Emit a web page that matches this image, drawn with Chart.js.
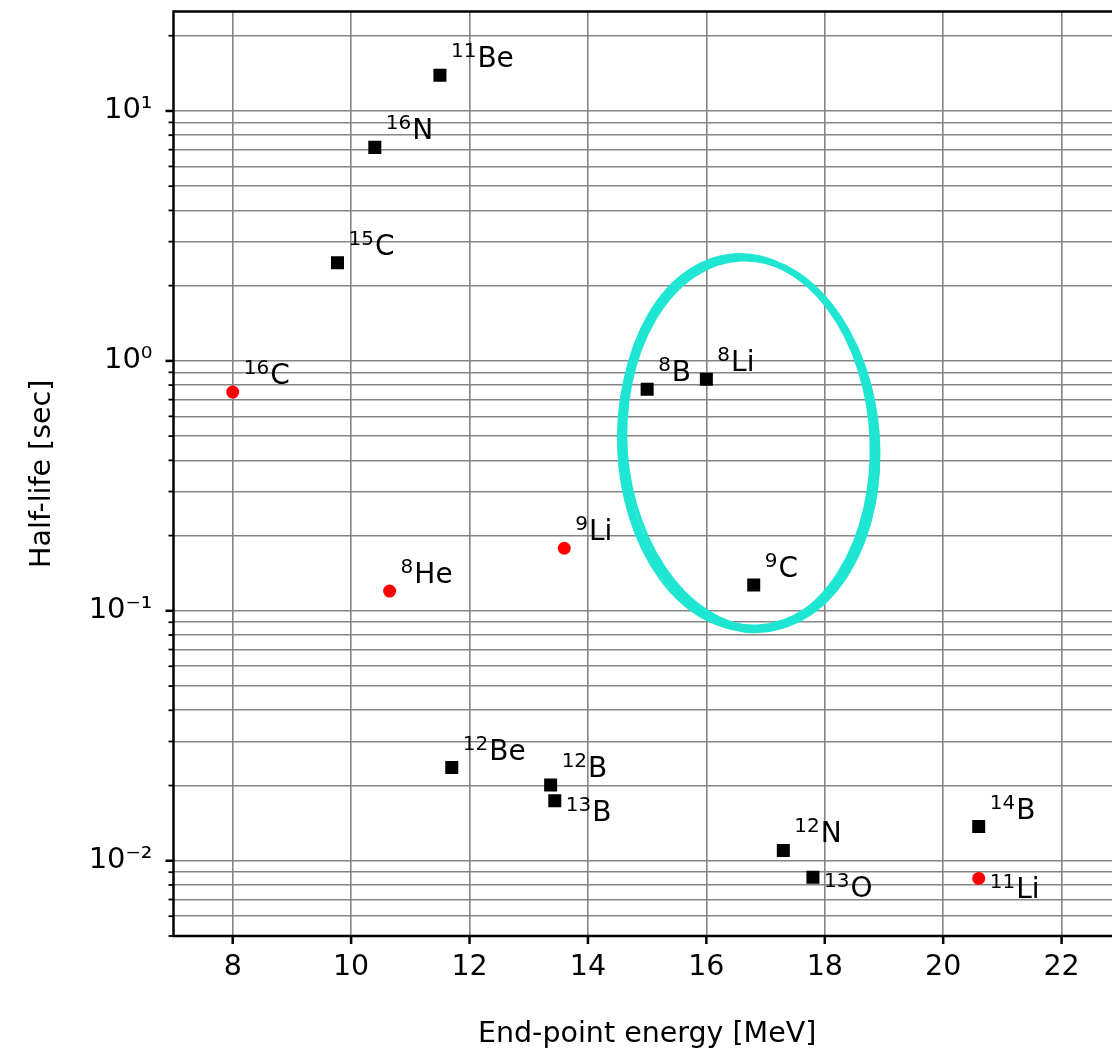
<!DOCTYPE html>
<html>
<head>
<meta charset="utf-8">
<script src="https://cdn.jsdelivr.net/npm/chart.js@4.4.1/dist/chart.umd.min.js"></script>
<style>
  html, body { margin: 0; padding: 0; background: #fff; overflow: hidden; }
  #wrap { width: 1130px; height: 1054px; }
</style>
</head>
<body>
<div id="wrap"><canvas id="myChart"></canvas></div>
<script>
// black squares
const blackMass = [11, 16, 15, 8, 8, 9, 12, 12, 13, 12, 13, 14]
const blackElement = ['Be', 'N', 'C', 'B', 'Li', 'C', 'Be', 'B', 'B', 'N', 'O', 'B']
const blackEnergy = [11.5, 10.4, 9.77, 15.0, 16.0, 16.8, 11.7, 13.37, 13.44, 17.3, 17.8, 20.6]
const blackHalfLife = [13.9, 7.15, 2.47, 0.77, 0.845, 0.127, 0.0236, 0.0201, 0.0174, 0.011, 0.0086, 0.0137]

// red dots
const redMass = [16, 9, 8, 11]
const redElement = ['C', 'Li', 'He', 'Li']
const redEnergy = [8.0, 13.6, 10.65, 20.6]
const redHalfLife = [0.75, 0.178, 0.12, 0.0085]

const xTicks = [8, 10, 12, 14, 16, 18, 20, 22]
const decades = [-3, -2, -1, 0, 1]
const supDigits = { '-': '\u207B', '0': '\u2070', '1': '\u00B9', '2': '\u00B2', '3': '\u00B3' }

// labels drawn under-right instead of over-right
const labelsBelow = ['13B', '13O', '11Li']

// hand drawn ring round 8B / 8Li / 9C (data units)
const ringX = [14.5, 18.9]
const ringY = [0.083, 2.65]

const FONT = "'DejaVu Sans', sans-serif"

const toPoints = (xs, ys) => xs.map((x, i) => ({ x: x, y: ys[i] }))

const tickMarks = {
    id: 'tickMarks',
    afterDraw(chart) {
        const c = chart.ctx
        const area = chart.chartArea
        const xs = chart.scales.x
        const ys = chart.scales.y
        c.save()
        c.strokeStyle = '#000'
        xs.ticks.forEach(t => {
            const px = xs.getPixelForValue(t.value)
            c.lineWidth = 2.5
            c.beginPath()
            c.moveTo(px, area.bottom)
            c.lineTo(px, area.bottom + 8)
            c.stroke()
        })
        ys.ticks.forEach(t => {
            const py = ys.getPixelForValue(t.value)
            const major = Math.abs(Math.log10(t.value) - Math.round(Math.log10(t.value))) < 1e-6
            c.lineWidth = major ? 2.5 : 1.8
            c.beginPath()
            c.moveTo(area.left, py)
            c.lineTo(area.left - (major ? 8 : 5), py)
            c.stroke()
        })
        // frame
        c.lineWidth = 2.5
        c.strokeRect(area.left, area.top, area.right - area.left, area.bottom - area.top)
        c.restore()
    }
}

const nuclideLabels = {
    id: 'nuclideLabels',
    afterDatasetsDraw(chart) {
        const c = chart.ctx
        c.save()
        c.fillStyle = '#000'
        c.textBaseline = 'alphabetic'
        c.textAlign = 'left'
        chart.data.datasets.forEach((ds, di) => {
            const meta = chart.getDatasetMeta(di)
            meta.data.forEach((pt, i) => {
                const mass = String(ds.mass[i])
                const el = ds.element[i]
                const below = labelsBelow.includes(mass + el)
                const x = pt.x + 11
                const base = below ? pt.y + 20 : pt.y - 8
                c.font = '20px ' + FONT
                c.fillText(mass, x, base - 10)
                const w = c.measureText(mass).width
                c.font = '28px ' + FONT
                c.fillText(el, x + w + 1, base)
            })
        })
        c.restore()
    }
}

const ring = {
    id: 'ring',
    afterDraw(chart) {
        const c = chart.ctx
        const xs = chart.scales.x
        const ys = chart.scales.y
        const x0 = xs.getPixelForValue(ringX[0]), x1 = xs.getPixelForValue(ringX[1])
        const y0 = ys.getPixelForValue(ringY[1]), y1 = ys.getPixelForValue(ringY[0])
        const cx = (x0 + x1) / 2, cy = (y0 + y1) / 2
        const rx = (x1 - x0) / 2, ry = (y1 - y0) / 2
        c.save()
        c.strokeStyle = '#1ee6d2'
        c.lineCap = 'round'
        // a few loose passes, like a marker pen
        const passes = [[0, 0, -0.06, 6], [-3, 1, -0.04, 3], [4, -1, -0.08, 3.5], [2, 3, -0.05, 2.5], [-1, -3, -0.07, 2.5], [5, 2, -0.065, 2]]
        passes.forEach(p => {
            c.lineWidth = p[3]
            c.beginPath()
            c.ellipse(cx + p[0], cy + p[1], rx - 4, ry - 2, p[2], 0, Math.PI * 2)
            c.stroke()
        })
        c.restore()
    }
}

const ctx = document.getElementById('myChart').getContext('2d')

const myChart = new Chart(ctx, {
    type: 'scatter',
    data: {
        datasets: [{
            label: 'black',
            data: toPoints(blackEnergy, blackHalfLife),
            mass: blackMass,
            element: blackElement,
            pointStyle: 'rect',
            pointRadius: 9.2,
            backgroundColor: '#000',
            borderColor: '#000',
            borderWidth: 0
        }, {
            label: 'red',
            data: toPoints(redEnergy, redHalfLife),
            mass: redMass,
            element: redElement,
            pointStyle: 'circle',
            pointRadius: 6.5,
            backgroundColor: '#ff0000',
            borderColor: '#ff0000',
            borderWidth: 0
        }]
    },
    options: {
        responsive: true,
        maintainAspectRatio: false,
        animation: false,
        layout: { padding: { top: 11.5, right: 9, left: 0, bottom: 0 } },
        plugins: {
            legend: { display: false },
            tooltip: { enabled: false }
        },
        scales: {
            x: {
                type: 'linear',
                min: 7,
                max: 23,
                afterBuildTicks: s => { s.ticks = xTicks.map(v => ({ value: v })) },
                afterFit: s => { s.height = 118; s.paddingLeft = 0; s.paddingRight = 0 },
                grid: { color: '#858585', lineWidth: 1.6, drawTicks: false },
                border: { display: false },
                ticks: {
                    color: '#000',
                    padding: 14,
                    autoSkip: false,
                    maxRotation: 0,
                    font: { family: FONT, size: 28.5 }
                },
                title: {
                    display: true,
                    text: 'End-point energy [MeV]',
                    color: '#000',
                    font: { family: FONT, size: 28.5 },
                    padding: { top: 0, bottom: 2 }
                }
            },
            y: {
                type: 'logarithmic',
                min: 0.005,
                max: 25,
                afterBuildTicks: s => {
                    const t = []
                    decades.forEach(d => {
                        for (let m = 1; m <= 9; m++) {
                            const v = m * Math.pow(10, d)
                            if (v >= s.min && v <= s.max) t.push({ value: v })
                        }
                    })
                    s.ticks = t
                },
                afterFit: s => { s.width = 173.5; s.paddingTop = 0; s.paddingBottom = 0 },
                grid: { color: '#858585', lineWidth: 1.6, drawTicks: false },
                border: { display: false },
                ticks: {
                    color: '#000',
                    padding: 21,
                    autoSkip: false,
                    font: { family: FONT, size: 29 },
                    callback: v => {
                        const e = Math.log10(v)
                        if (Math.abs(e - Math.round(e)) > 1e-6) return ''
                        return '10' + String(Math.round(e)).split('').map(ch => supDigits[ch]).join('')
                    }
                },
                title: {
                    display: true,
                    text: 'Half-life [sec]',
                    color: '#000',
                    font: { family: FONT, size: 28.5 },
                    padding: { top: 25, bottom: 0 }
                }
            }
        }
    },
    plugins: [tickMarks, nuclideLabels, ring]
});
</script>
</body>
</html>
